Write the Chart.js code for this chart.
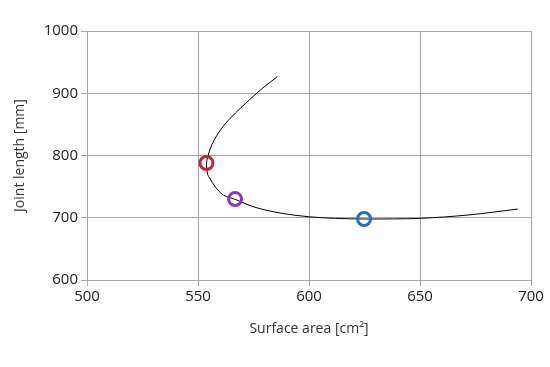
<!DOCTYPE html>
<html>
<head>
<meta charset="utf-8">
<script src="https://cdn.jsdelivr.net/npm/chart.js@4"></script>
<style>
    html, body { margin: 0; padding: 0; background: #fff; }
    #wrap { width: 550px; height: 367px; }
</style>
</head>
<body>
<div id="wrap"><canvas id="chart" width="550" height="367"></canvas></div>
<script>
// Courbe : surface (cm²) vs longueur de joint (mm)
const curveX = [585.7, 576.4, 563.8, 559.1, 556.2, 554.4, 553.8, 554.4, 555.4, 557.7, 561.4, 566.7, 575.7, 587.7, 599.7, 612, 625, 638, 650, 672, 694];
const curveY = [926.6, 900, 857, 835.7, 817, 798, 785, 769, 763, 750, 736.5, 729.6, 716.8, 707.2, 701.7, 699, 698, 698.2, 699, 704.5, 714];

// Points marqués
const markerX = [553.8, 566.7, 624.8];
const markerY = [788, 730, 698];
const markerColors = ['#c0243f', '#8a33c9', '#2b6cb8'];

// Axes
const xTicks = [500, 550, 600, 650, 700];
const yTicks = [600, 700, 800, 900, 1000];

const gridColor = '#a6a6a6';
const textColor = '#222';

new Chart(document.getElementById('chart'), {
    type: 'scatter',
    data: {
        datasets: [{
            label: 'markers',
            data: markerX.map((x, i) => ({ x: x, y: markerY[i] })),
            pointRadius: 6.5,
            pointHoverRadius: 6.5,
            pointBorderWidth: 3,
            pointBorderColor: markerColors,
            pointBackgroundColor: 'rgba(0,0,0,0)',
            showLine: false,
            order: 0
        }, {
            label: 'curve',
            data: curveX.map((x, i) => ({ x: x, y: curveY[i] })),
            showLine: true,
            borderColor: '#000',
            borderWidth: 1,
            pointRadius: 0,
            tension: 0.35,
            fill: false,
            order: 1
        }]
    },
    options: {
        responsive: false,
        animation: false,
        events: [],
        layout: {
            padding: { top: 31, right: 19, bottom: 0, left: 0 }
        },
        plugins: {
            legend: { display: false },
            tooltip: { enabled: false }
        },
        scales: {
            x: {
                type: 'linear',
                min: xTicks[0],
                max: xTicks[xTicks.length - 1],
                afterBuildTicks: axis => { axis.ticks = xTicks.map(v => ({ value: v })); },
                afterFit: axis => { axis.height = 87; },
                ticks: {
                    color: textColor,
                    font: { family: 'Open Sans', size: 15 },
                    padding: 2,
                    maxRotation: 0,
                    callback: v => String(v)
                },
                grid: { color: gridColor, tickLength: 6, lineWidth: 1 },
                border: { color: gridColor },
                title: {
                    display: true,
                    text: 'Surface area [cm²]',
                    color: '#333',
                    font: { family: 'Open Sans', size: 14 },
                    padding: { top: 4, bottom: 30 }
                }
            },
            y: {
                type: 'linear',
                min: yTicks[0],
                max: yTicks[yTicks.length - 1],
                afterBuildTicks: axis => { axis.ticks = yTicks.map(v => ({ value: v })); },
                afterFit: axis => { axis.width = 87; },
                ticks: {
                    color: textColor,
                    font: { family: 'Open Sans', size: 15 },
                    padding: 3,
                    callback: v => String(v)
                },
                grid: { color: gridColor, tickLength: 6, lineWidth: 1 },
                border: { color: gridColor },
                title: {
                    display: true,
                    text: 'Joint length [mm]',
                    color: '#333',
                    font: { family: 'Open Sans', size: 14 },
                    padding: { top: 12, bottom: 0 }
                }
            }
        }
    }
});
</script>
</body>
</html>
